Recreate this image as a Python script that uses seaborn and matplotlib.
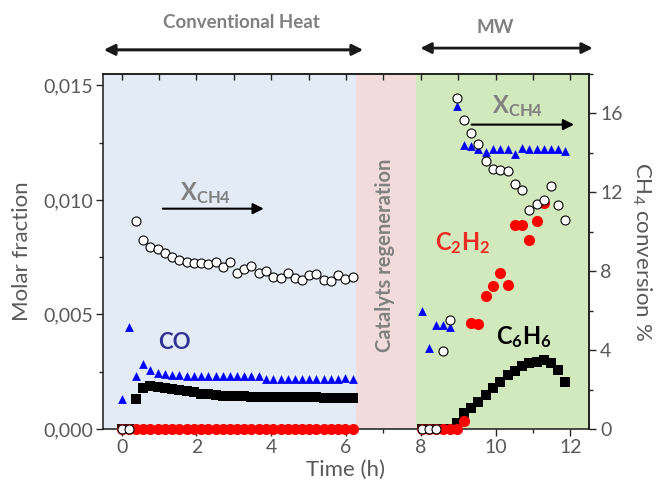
import matplotlib
matplotlib.use('Agg')
import matplotlib.pyplot as plt
from matplotlib.ticker import MultipleLocator, FuncFormatter, FixedLocator
import numpy as np
import pandas as pd
import seaborn as sns

# ---------------- data ----------------
time_conv = [0.00, 0.19, 0.39, 0.58, 0.77, 0.97, 1.16, 1.35, 1.54, 1.74, 1.93,
             2.12, 2.32, 2.51, 2.70, 2.90, 3.09, 3.28, 3.47, 3.67, 3.86, 4.05,
             4.25, 4.44, 4.63, 4.83, 5.02, 5.21, 5.40, 5.60, 5.79, 5.98, 6.18]
co_conv = [0.00131, 0.00444, 0.00232, 0.00283, 0.00256, 0.00246, 0.00240,
           0.00237, 0.00234, 0.00233, 0.00232, 0.00231, 0.00231, 0.00231,
           0.00231, 0.00231, 0.00231, 0.00231, 0.00232, 0.00232, 0.00219,
           0.00218, 0.00218, 0.00218, 0.00219, 0.00219, 0.00219, 0.00219,
           0.00220, 0.00220, 0.00220, 0.00221, 0.00219]
c6h6_conv = [0.0, 0.0, 0.00131, 0.00181, 0.00186, 0.00185, 0.00181, 0.00176,
             0.00170, 0.00165, 0.00160, 0.00155, 0.00151, 0.00148, 0.00146,
             0.00144, 0.00143, 0.00142, 0.00141, 0.00141, 0.00140, 0.00140,
             0.00140, 0.00139, 0.00139, 0.00139, 0.00138, 0.00138, 0.00137,
             0.00137, 0.00136, 0.00136, 0.00135]
c2h2_conv = [0.0] * 33
xch4_conv = [0.0, 0.0, 10.53, 9.60, 9.25, 9.15, 8.91, 8.74, 8.57, 8.49, 8.44,
             8.44, 8.39, 8.49, 8.20, 8.46, 7.93, 8.09, 8.29, 7.93, 8.00, 7.71,
             7.68, 7.90, 7.68, 7.58, 7.83, 7.86, 7.58, 7.48, 7.83, 7.61, 7.71]

time_mw = [8.03, 8.22, 8.40, 8.60, 8.79, 8.98, 9.15, 9.34, 9.54, 9.74, 9.94,
           10.13, 10.32, 10.52, 10.71, 10.90, 11.10, 11.30, 11.48, 11.68, 11.86]
co_mw = [0.00517, 0.00355, 0.00452, 0.00452, 0.00444, 0.01409, 0.01241,
         0.01234, 0.01224, 0.01208, 0.01224, 0.01224, 0.01224, 0.01202,
         0.01227, 0.01224, 0.01224, 0.01224, 0.01224, 0.01224, 0.01212]
c6h6_mw = [0.0, 0.0, 0.0, 0.0, 0.0, 0.00025, 0.00069, 0.00090, 0.00120,
           0.00149, 0.00178, 0.00207, 0.00236, 0.00255, 0.00275, 0.00287,
           0.00294, 0.00302, 0.00290, 0.00258, 0.00207]
c2h2_mw = [0.0, 0.0, 0.0, 0.0, 0.0, 0.0, 0.00035, 0.00465, 0.00458, 0.00581,
           0.00625, 0.00680, 0.00629, 0.00892, 0.00892, 0.00826, 0.00909,
           0.00986, np.nan, np.nan, np.nan]
xch4_mw = [0.0, 0.0, 0.0, 3.96, 5.52, 16.79, 15.65, 15.00, 14.46, 13.57,
           13.16, 13.11, 13.08, 12.44, 12.10, 11.12, 11.39, 11.59, 12.30,
           11.34, 10.58]

left_ticks = [0.000, 0.005, 0.010, 0.015]
right_ticks = [0, 4, 8, 12, 16]
x_ticks = [0, 2, 4, 6, 8, 10, 12]

df = pd.DataFrame({
    'time': time_conv + time_mw,
    'CO': co_conv + co_mw,
    'C6H6': c6h6_conv + c6h6_mw,
    'C2H2': c2h2_conv + c2h2_mw,
    'XCH4': xch4_conv + xch4_mw,
})

# ---------------- style ----------------
sns.set_style('ticks')
plt.rcParams['font.family'] = ['Lato', 'DejaVu Sans']
plt.rcParams['mathtext.fontset'] = 'custom'
plt.rcParams['mathtext.rm'] = 'Lato'
plt.rcParams['mathtext.it'] = 'Lato:italic'
plt.rcParams['mathtext.bf'] = 'Lato:bold'

GRAY_TXT = '#595959'
GRAY_ANN = '#808080'

fig = plt.figure(figsize=(6.57, 4.9), dpi=100)
ax = fig.add_axes([103 / 657, 1 - 429 / 490, (589 - 103) / 657, (429 - 74) / 490])

ax.axvspan(-0.5, 6.27, color='#E3EBF7', lw=0, zorder=0)
ax.axvspan(6.27, 7.86, color='#F2DCDB', lw=0, zorder=0)
ax.axvspan(7.86, 12.5, color='#D1E9BC', lw=0, zorder=0)

sns.scatterplot(data=df, x='time', y='C6H6', marker='s', color='black',
                s=46, linewidth=0, ax=ax, zorder=3, legend=False)
sns.scatterplot(data=df, x='time', y='CO', marker='^', color='#0000FF',
                s=40, linewidth=0, ax=ax, zorder=4, legend=False)
sns.scatterplot(data=df, x='time', y='C2H2', marker='o', color='#FF0000',
                s=64, linewidth=0, ax=ax, zorder=5, legend=False)
ax.collections[-1].set_clip_on(False)

ax2 = ax.twinx()
sns.scatterplot(data=df, x='time', y='XCH4', marker='o', color='white',
                edgecolor='black', s=42, linewidth=0.8, ax=ax2, zorder=6,
                legend=False)
ax2.collections[-1].set_clip_on(False)

# ---------------- axes ----------------
ax.set_xlim(-0.5, 12.5)
ax.set_ylim(0, 0.0155)
ax2.set_ylim(0, 18)

ax.xaxis.set_major_locator(FixedLocator(x_ticks))
ax.xaxis.set_minor_locator(MultipleLocator(1))
ax.yaxis.set_major_locator(FixedLocator(left_ticks))
ax.yaxis.set_minor_locator(MultipleLocator(0.0025))
ax.yaxis.set_major_formatter(FuncFormatter(lambda v, p: f"{v:.3f}".replace('.', ',')))
ax2.yaxis.set_major_locator(FixedLocator(right_ticks))
ax2.yaxis.set_minor_locator(MultipleLocator(2))

for sp in ax.spines.values():
    sp.set_linewidth(1.1)
    sp.set_color('#1a1a1a')
    sp.set_visible(True)
for name, sp in ax2.spines.items():
    sp.set_linewidth(1.1)
    sp.set_color('#1a1a1a')
    sp.set_visible(name == 'right')

ax.tick_params(axis='both', which='major', direction='out', length=5, width=1.0,
               labelsize=14, labelcolor=GRAY_TXT, pad=2)
ax.tick_params(axis='both', which='minor', direction='out', length=3, width=1.0)
ax2.tick_params(axis='y', which='major', direction='out', length=5, width=1.0,
                labelsize=14, labelcolor=GRAY_TXT, pad=3)
ax2.tick_params(axis='y', which='minor', direction='out', length=3, width=1.0)

top = ax.secondary_xaxis('top')
top.xaxis.set_major_locator(MultipleLocator(1))
top.tick_params(direction='in', length=4, width=1.0, labeltop=False)
top.spines['top'].set_linewidth(1.1)

ax.set_xlabel('Time (h)', fontsize=16, color=GRAY_TXT, labelpad=3)
ax.set_ylabel('Molar fraction', fontsize=16, color=GRAY_TXT, labelpad=8)
ax2.set_ylabel(r'CH$_4$ conversion %', fontsize=16, color=GRAY_TXT,
               rotation=270, labelpad=22)

# ---------------- annotations ----------------
ax.text(7.05, 0.49, 'Catalyts regeneration', transform=ax.get_xaxis_transform(),
        rotation=90, ha='center', va='center', fontsize=14.5, fontweight='bold',
        color=GRAY_ANN)

ax.annotate('', xy=(6.46, 1.068), xytext=(-0.48, 1.068),
            xycoords=('data', 'axes fraction'), textcoords=('data', 'axes fraction'),
            arrowprops=dict(arrowstyle='<|-|>', color='#1a1a1a', lw=2.2,
                            mutation_scale=16, shrinkA=0, shrinkB=0),
            annotation_clip=False)
ax.annotate('', xy=(12.6, 1.073), xytext=(7.99, 1.073),
            xycoords=('data', 'axes fraction'), textcoords=('data', 'axes fraction'),
            arrowprops=dict(arrowstyle='<|-|>', color='#1a1a1a', lw=2.0,
                            mutation_scale=16, shrinkA=0, shrinkB=0),
            annotation_clip=False)
ax.text(3.2, 1.145, 'Conventional Heat', transform=ax.get_xaxis_transform(),
        ha='center', va='center', fontsize=13.5, fontweight='bold', color=GRAY_ANN)
ax.text(10.0, 1.13, 'MW', transform=ax.get_xaxis_transform(),
        ha='center', va='center', fontsize=13.5, fontweight='bold', color=GRAY_ANN)

# X_CH4 labels and arrows
ax.text(1.55, 0.0103, r'$\mathbf{X_{CH4}}$', ha='left', va='center',
        fontsize=17, color=GRAY_ANN)
ax.annotate('', xy=(3.8, 0.00962), xytext=(1.1, 0.00962),
            arrowprops=dict(arrowstyle='-|>', color='black', lw=1.5,
                            mutation_scale=16, shrinkA=0, shrinkB=0))
ax.text(9.9, 0.0141, r'$\mathbf{X_{CH4}}$', ha='left', va='center',
        fontsize=17, color=GRAY_ANN)
ax.annotate('', xy=(12.1, 0.01329), xytext=(9.36, 0.01329),
            arrowprops=dict(arrowstyle='-|>', color='black', lw=1.5,
                            mutation_scale=16, shrinkA=0, shrinkB=0))

ax.text(1.4, 0.00376, 'CO', ha='center', va='center', fontsize=16,
        fontweight='bold', color='#2E3192')
ax.text(9.12, 0.0081, r'$\mathbf{C_2H_2}$', ha='center', va='center',
        fontsize=17, color='#EE2A24')
ax.text(10.75, 0.0040, r'$\mathbf{C_6H_6}$', ha='center', va='center',
        fontsize=17, color='black')

fig.savefig('out.png', dpi=100)
